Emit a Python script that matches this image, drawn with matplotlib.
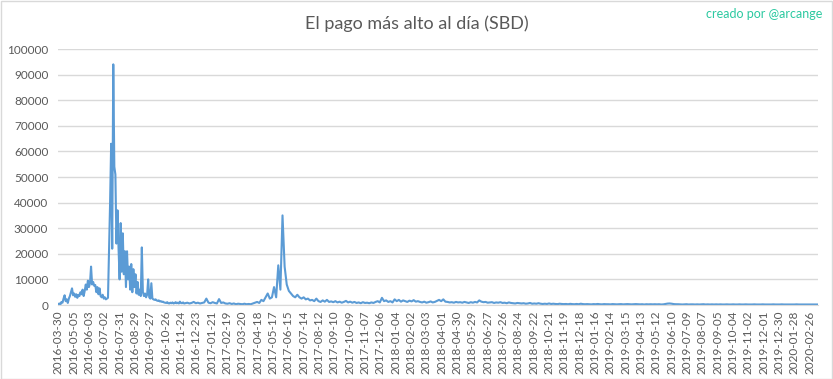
import numpy as np
import matplotlib
matplotlib.use("Agg")
import matplotlib.pyplot as plt
from matplotlib.patches import Rectangle

# highest daily payout (SBD)
# 2016-03-30 .. ~2016-11-24, one value every 2 days
payout_2016 = [
    300, 600, 200, 1200, 900, 2500, 3800, 1500, 2200, 800,
    2500, 3500, 5000, 6500, 3800, 4500, 3200, 4200, 2800, 4000,
    3500, 5000, 4200, 6000, 3500, 5500, 8000, 6000, 9500, 7000,
    8500, 15000, 8000, 9000, 7500, 7800, 5000, 7000, 4200, 6500,
    3500, 3000, 4000, 2500, 3000, 2200, 2500, 2800, 21000, 40000,
    63000, 22000, 94000, 54000, 51000, 24000, 37000, 22000, 10000, 32000,
    13000, 28000, 12000, 21000, 7000, 21000, 10000, 15000, 6000, 16000,
    5000, 14000, 7000, 12000, 4500, 9000, 4000, 6000, 3500, 22500,
    5000, 3500, 4500, 3000, 4000, 10000, 3000, 2500, 8500, 2500,
    2200, 2000, 2200, 1800, 1600, 1800, 1400, 1500, 1200, 1300,
    1000, 900, 800, 1100, 700, 600, 900, 700, 1000, 600,
    800, 1100, 700, 900, 600, 1300, 800, 700, 1000, 600,
]
# from ~2016-11-26 onwards, one value every 4 days
payout_rest = [
    700, 900, 600, 800, 1200, 700, 900, 600, 800, 1000,
    2500, 900, 700, 1100, 800, 600, 2300, 800, 1000, 600,
    500, 700, 400, 600, 300, 500, 400, 300, 500, 300,
    400, 300, 600, 900, 1200, 800, 2000, 1500, 3000, 4500,
    2500, 3000, 7000, 3000, 15500, 6000, 35000, 15000, 8000, 5500,
    4500, 3500, 3000, 4000, 3000, 2500, 3000, 2200, 2500, 1800,
    2000, 1500, 2500, 1500, 1200, 1800, 1300, 2000, 1200, 1400,
    1100, 1500, 1000, 1300, 900, 1200, 1600, 1000, 1300, 900,
    1200, 800, 1000, 700, 1100, 800, 900, 700, 1000, 800,
    1200, 1500, 1000, 2800, 1500, 1800, 1200, 1500, 1000, 2200,
    1500, 2000, 1300, 1800, 1500, 1200, 1700, 1400, 1900, 1300,
    1500, 1200, 1000, 1300, 900, 1100, 1400, 1000, 1200, 1600,
    2000, 1500, 2200, 1300, 1200, 1000, 1100, 900, 1200, 1000,
    1100, 900, 1200, 1000, 800, 1100, 900, 1200, 1000, 1800,
    1300, 1100, 1200, 900, 1000, 1100, 800, 1000, 900, 1100,
    800, 900, 700, 1000, 800, 700, 600, 800, 700, 600,
    700, 500, 600, 800, 500, 600, 500, 700, 500, 400,
    500, 400, 600, 400, 500, 400, 350, 500, 400, 350,
    400, 300, 450, 350, 300, 400, 300, 500, 350, 300,
    350, 300, 250, 350, 300, 400, 300, 250, 350, 300,
    300, 250, 350, 300, 250, 300, 350, 250, 300, 350,
    300, 250, 300, 350, 300, 250, 300, 200, 300, 250,
    300, 250, 300, 250, 300, 200, 250, 400, 550, 600,
    500, 350, 300, 300, 250, 200, 250, 300, 200, 250,
    250, 200, 250, 200, 250, 300, 200, 250, 200, 250,
    200, 250, 200, 250, 200, 200, 250, 200, 200, 250,
    200, 200, 250, 200, 200, 250, 200, 200, 200, 250,
    200, 200, 200, 250, 200, 200, 200, 200, 250, 200,
    200, 200, 250, 200, 200, 200, 200, 200, 200, 250,
    200, 200, 200, 200, 200, 200, 200, 200, 200, 200,
]

tick_labels = [
    "2016-03-30", "2016-05-05", "2016-06-03", "2016-07-02", "2016-07-31",
    "2016-08-29", "2016-09-27", "2016-10-26", "2016-11-24", "2016-12-23",
    "2017-01-21", "2017-02-19", "2017-03-20", "2017-04-18", "2017-05-17",
    "2017-06-15", "2017-07-14", "2017-08-12", "2017-09-10", "2017-10-09",
    "2017-11-07", "2017-12-06", "2018-01-04", "2018-02-02", "2018-03-03",
    "2018-04-01", "2018-04-30", "2018-05-29", "2018-06-27", "2018-07-26",
    "2018-08-24", "2018-09-22", "2018-10-21", "2018-11-19", "2018-12-18",
    "2019-01-16", "2019-02-14", "2019-03-15", "2019-04-13", "2019-05-12",
    "2019-06-10", "2019-07-09", "2019-08-07", "2019-09-05", "2019-10-04",
    "2019-11-02", "2019-12-01", "2019-12-30", "2020-01-28", "2020-02-26",
]
LABEL_EVERY = 29  # categories between two date labels
N_DAYS = 1437

plt.rcParams["font.family"] = ["Lato", "DejaVu Sans"]
GREY = "#595959"
GRID = "#D9D9D9"
LINE = "#5B9BD5"

# category index of each value
x_2016 = np.arange(len(payout_2016)) * 2
x_rest = x_2016[-1] + 2 + np.arange(len(payout_rest)) * 4
x = np.concatenate([x_2016, x_rest])
y = np.array(payout_2016 + payout_rest)

fig = plt.figure(figsize=(8.33, 3.79), dpi=100)
ax = fig.add_axes([58 / 833, 1 - 305 / 379, 760 / 833, 256 / 379])

ax.plot(x, y, color=LINE, linewidth=1.5, solid_joinstyle="round")

ax.set_xlim(-0.5, N_DAYS - 0.5)
ax.set_ylim(0, 100000)
ax.set_yticks(np.arange(0, 100001, 10000))
ax.set_yticklabels([str(v) for v in range(0, 100001, 10000)])
ax.set_xticks(np.arange(len(tick_labels)) * LABEL_EVERY)
ax.set_xticklabels(tick_labels, rotation=90)

ax.grid(axis="y", color=GRID, linewidth=1)
ax.set_axisbelow(True)
for side in ["top", "right", "left"]:
    ax.spines[side].set_visible(False)
ax.spines["bottom"].set_color(GRID)
ax.tick_params(axis="both", length=0, labelsize=8.5, labelcolor=GREY)
ax.tick_params(axis="y", pad=7)
ax.tick_params(axis="x", pad=4)

fig.text(0.5, 1 - 24 / 379, "El pago más alto al día (SBD)", ha="center",
         va="center", fontsize=13, color=GREY)
fig.text(822 / 833, 1 - 14 / 379, "creado por @arcange", ha="right",
         va="center", fontsize=9, color="#2BC9A0")

# light chart border
fig.patches.append(Rectangle((0.5 / 833, 0.5 / 379), 1 - 1.5 / 833, 1 - 1.5 / 379,
                             transform=fig.transFigure, fill=False,
                             edgecolor=GRID, linewidth=1))

fig.savefig("out.png", dpi=100)
